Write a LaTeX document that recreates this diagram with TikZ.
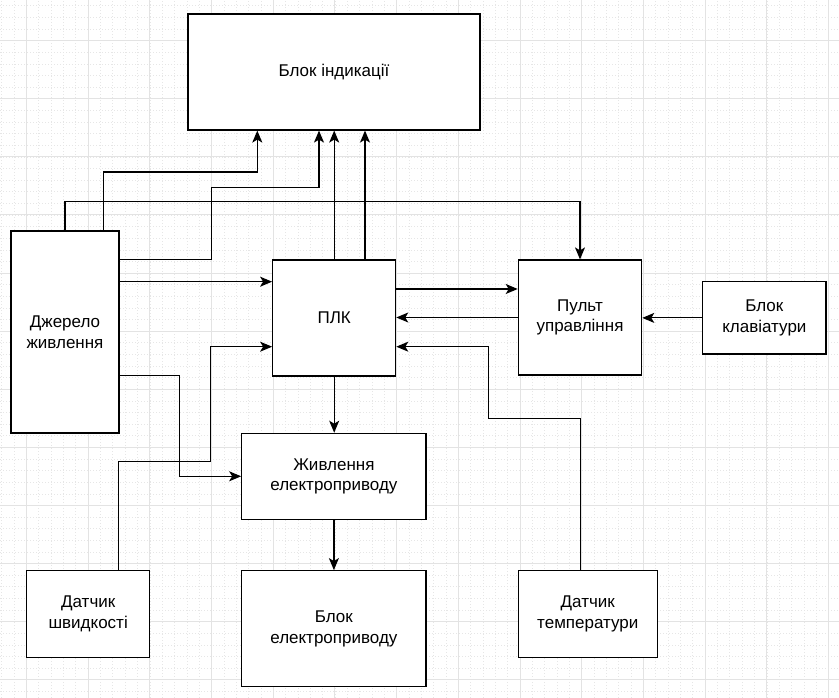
\documentclass[tikz,border=0pt]{standalone}
\usepackage{fontspec}
\setmainfont{Liberation Sans}
\usetikzlibrary{arrows.meta}
\definecolor{gridmaj}{HTML}{E3E3E3}
\definecolor{gridmin}{HTML}{E6E6E6}

\begin{document}
\begin{tikzpicture}[x=1pt, y=1pt, every node/.style={font=\fontsize{17}{20.5}\selectfont},
    blok/.style={draw, rectangle, line width=1.2pt, fill=white, align=center, inner sep=0pt},
    arr/.style={line width=1.2pt, -{Stealth[length=12pt, width=10pt, inset=3pt]}}]
      \useasboundingbox (0,0) rectangle (839,698);
      \fill[white] (0,0) rectangle (839,698);
      \begin{scope}
        \clip (0,0) rectangle (839,698);
        \foreach \i in {0,...,67} {\draw[gridmin, line width=0.6pt, dash pattern=on 1pt off 2pt] ({1.72+12.34*\i},0) -- ++(0,698);}
        \foreach \j in {0,...,59} {\draw[gridmin, line width=0.6pt, dash pattern=on 1pt off 2pt] (0,{692.2-11.62*\j}) -- ++(839,0);}
        \foreach \i in {0,...,13} {\draw[gridmaj, line width=1pt] ({26.4+61.7*\i},0) -- ++(0,698);}
        \foreach \j in {0,...,11} {\draw[gridmaj, line width=1pt] (0,{657.3-58.1*\j}) -- ++(839,0);}
      \end{scope}
      \node[blok, minimum width=292pt, minimum height=116pt] (ind) at (334, 626) {Блок індикації};
      \node[blok, minimum width=108pt, minimum height=202pt] (psu) at (65, 366) {Джерело\\живлення};
      \node[blok, minimum width=123pt, minimum height=116pt] (plc) at (334.2, 380) {ПЛК};
      \node[blok, minimum width=123.4pt, minimum height=115pt] (pult) at (580, 380.5) {Пульт\\управління};
      \node[blok, minimum width=123.3pt, minimum height=72.3pt] (kbd) at (764.4, 380.1) {Блок\\клавіатури};
      \node[blok, minimum width=184.3pt, minimum height=86pt] (drvpwr) at (333.9, 221.7) {Живлення\\електроприводу};
      \node[blok, minimum width=184.3pt, minimum height=116pt] (drv) at (333.9, 69.3) {Блок\\електроприводу};
      \node[blok, minimum width=123pt, minimum height=86.6pt] (spd) at (88.2, 84) {Датчик\\швидкості};
      \node[blok, minimum width=139pt, minimum height=86.6pt] (temp) at (587.8, 84) {Датчик\\температури};
      \draw[arr] (psu.north) -- ++(0,29) -| (pult.north);
      \draw[arr] ([xshift=38.3pt]psu.north) -- ++(0,58.3) -| ([xshift=-76.7pt]ind.south);
      \draw[arr] ([yshift=72.7pt]psu.east) -| ++(91.7,71.6) -| ([xshift=-15pt]ind.south);
      \draw[arr] ([yshift=50.3pt]psu.east) -- ([yshift=50.3pt]psu.east -| plc.west);
      \draw[arr] (plc.north) -- (plc.north |- ind.south);
      \draw[arr] ([xshift=30.8pt]plc.north) -- ([xshift=30.8pt]plc.north |- ind.south);
      \draw[arr] ([yshift=-43.7pt]psu.east) -| ([xshift=-61.4pt]drvpwr.west) -- (drvpwr.west);
      \draw[arr] ([xshift=30.5pt]spd.north) -- ++(0,108.4) -| ([xshift=-62pt, yshift=-28.7pt]plc.west) -- ([yshift=-28.7pt]plc.west);
      \draw[arr] (plc.south) -- (plc.south |- drvpwr.north);
      \draw[arr] (drvpwr.south) -- (drv.north);
      \draw[arr] ([yshift=29pt]plc.east) -- ([yshift=29pt]plc.east -| pult.west);
      \draw[arr] (pult.west) -- (pult.west -| plc.east);
      \draw[arr] ([xshift=-7.1pt]temp.north) -- ++(0,151.7) -| ([xshift=92pt, yshift=-28.7pt]plc.east) -- ([yshift=-28.7pt]plc.east);
      \draw[arr] (kbd.west) -- (kbd.west -| pult.east);
    \end{tikzpicture}
\end{document}
